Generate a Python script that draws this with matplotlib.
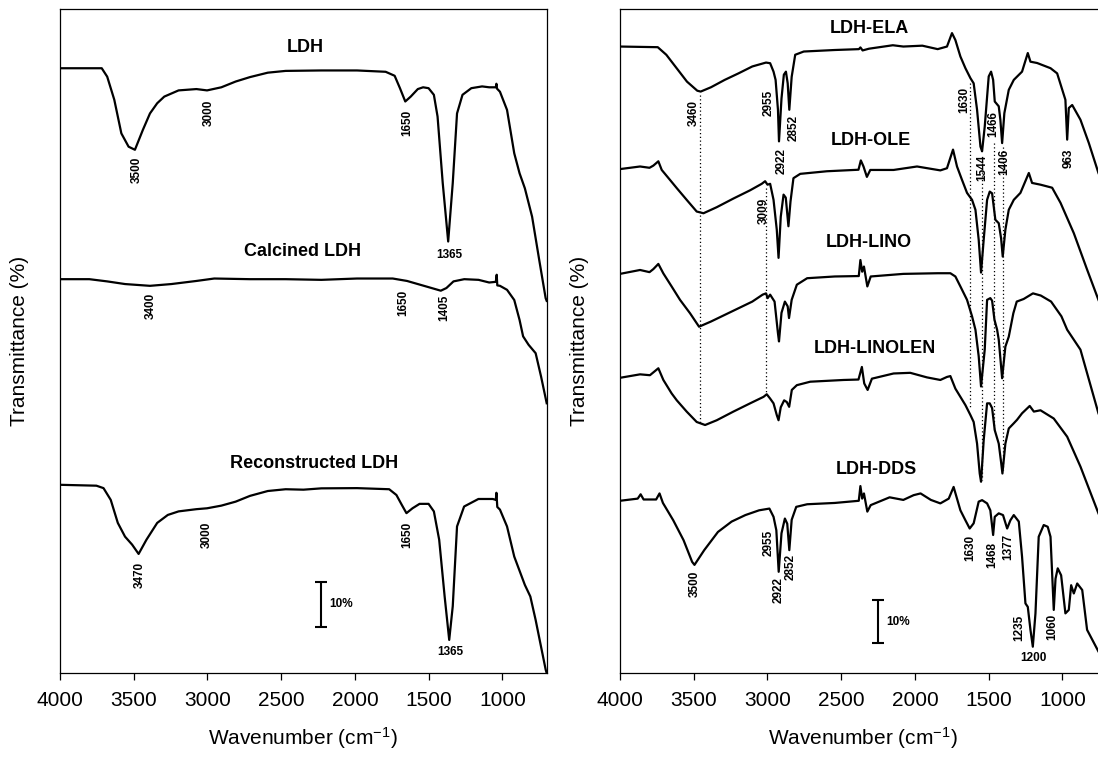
import matplotlib
matplotlib.use("Agg")
import matplotlib.pyplot as plt

plt.rcParams['font.family'] = ['Liberation Sans', 'DejaVu Sans']
plt.rcParams['mathtext.default'] = 'regular'

# =============================
# Spectra (wavenumber, transmittance change in % relative to 4000 cm-1)
# =============================
LDH_WN = [4000, 3717, 3680, 3632, 3584, 3535, 3492, 3438, 3390, 3341, 3293, 3196, 3075, 3003, 2906, 2809,
          2712, 2591, 2470, 2228, 1986, 1792, 1731, 1695, 1659, 1622, 1574, 1538, 1501, 1465, 1440, 1405,
          1368, 1337, 1308, 1271, 1211, 1138, 1090, 1045, 1041, 1037, 1017, 969, 920, 884, 848, 799, 751, 707, 700]
LDH_T = [0, 0, -1.9, -7.1, -14.7, -17.7, -18.4, -13.9, -10.2, -7.9, -6.4, -5.0, -4.7, -5.0, -4.3, -3.0,
         -2.0, -1.0, -0.6, -0.5, -0.5, -0.8, -1.7, -4.5, -7.5, -6.4, -4.7, -4.3, -4.5, -6.0, -10.9, -25.9,
         -39.1, -25.9, -10.2, -6.0, -4.5, -4.1, -4.3, -4.3, -3.5, -4.6, -5.3, -9.4, -19.2, -23.7, -27.1, -33.5, -43.2, -51.9, -52.5]

CAL_WN = [4000, 3801, 3680, 3559, 3390, 3245, 3075, 2954, 2712, 2470, 2228, 1986, 1744, 1647, 1574, 1501,
          1418, 1380, 1332, 1259, 1162, 1090, 1045, 1039, 1035, 1017, 969, 920, 884, 860, 823, 775, 738, 700]
CAL_T = [0, 0, -0.5, -1.1, -1.5, -1.1, -0.4, 0.15, 0, 0, -0.15, 0.15, 0.15, -0.4, -1.1, -1.8,
         -2.6, -2.0, -0.5, 0, -0.15, -0.75, -0.6, 1.0, -1.4, -1.5, -2.4, -4.7, -9.2, -12.9, -14.8, -16.7, -22.0, -28.0]

REC_WN = [4000, 3753, 3705, 3656, 3608, 3559, 3511, 3467, 3414, 3341, 3269, 3196, 3075, 3003, 2906, 2809,
          2712, 2591, 2470, 2349, 2228, 1986, 1768, 1719, 1683, 1651, 1610, 1562, 1501, 1465, 1429, 1392,
          1361, 1337, 1308, 1260, 1163, 1066, 1045, 1041, 1035, 1017, 969, 920, 848, 811, 775, 707, 700]
REC_T = [0, -0.2, -0.75, -3.4, -8.6, -11.7, -13.5, -15.6, -12.4, -8.6, -6.8, -6.0, -5.5, -5.3, -4.7, -3.8,
         -2.5, -1.4, -1.0, -1.1, -0.8, -0.75, -1.0, -2.3, -4.5, -6.4, -5.3, -4.3, -4.3, -6.0, -12.4, -25.2,
         -35.0, -27.4, -9.4, -4.9, -3.2, -3.2, -3.4, -1.8, -5.0, -5.6, -9.4, -16.2, -22.6, -25.2, -30.5, -41.7, -42.5]

ELA_WN = [4000, 3744, 3686, 3616, 3546, 3476, 3453, 3383, 3290, 3197, 3103, 3010, 2982, 2959, 2945, 2929,
          2922, 2905, 2889, 2875, 2863, 2852, 2836, 2812, 2754, 2544, 2380, 2370, 2355, 2312, 2150, 2079,
          1950, 1846, 1783, 1749, 1726, 1692, 1658, 1624, 1602, 1579, 1556, 1545, 1527, 1500, 1484, 1470,
          1459, 1432, 1421, 1409, 1394, 1364, 1330, 1274, 1235, 1217, 1172, 1081, 1036, 980, 968, 957,
          934, 878, 821, 756, 700]
ELA_T = [0, -0.15, -1.9, -5.0, -8.1, -10.2, -10.4, -9.4, -7.7, -6.2, -4.6, -3.7, -3.85, -5.8, -7.7, -14.6,
         -21.9, -12.0, -6.5, -5.8, -8.5, -14.6, -7.0, -1.9, -1.15, -0.8, -0.6, -0.2, -0.9, -0.5, 0.3, 0,
         0.2, -0.6, 0, 3.1, 1.5, -2.3, -5.0, -7.3, -8.5, -14.6, -23.1, -24.2, -18.5, -6.9, -5.8, -7.7,
         -12.7, -13.8, -16.9, -22.3, -15.4, -10.0, -7.7, -5.8, -1.5, -3.5, -3.8, -5.0, -6.2, -12.3, -21.5, -14.2,
         -13.5, -16.9, -22.3, -29.2, -33.5]

OLE_WN = [4000, 3864, 3800, 3774, 3740, 3717, 3661, 3615, 3548, 3480, 3434, 3344, 3231, 3118, 3039, 3016,
          3000, 2982, 2959, 2937, 2925, 2910, 2891, 2876, 2858, 2844, 2824, 2778, 2597, 2383, 2367, 2349,
          2326, 2303, 2145, 1986, 1828, 1783, 1742, 1715, 1681, 1647, 1613, 1590, 1568, 1552, 1534, 1511,
          1493, 1477, 1455, 1432, 1416, 1405, 1387, 1364, 1330, 1285, 1228, 1206, 1149, 1070, 1013, 923,
          833, 756, 700]
OLE_T = [0, 0.6, 0.3, 0.8, 1.8, -0.2, -2.5, -4.4, -7.1, -9.8, -10.2, -8.8, -6.8, -4.9, -3.4, -2.8,
         -3.6, -3.4, -7.1, -14.0, -20.5, -11.0, -5.9, -6.6, -13.2, -7.5, -2.1, -1.1, -0.5, -0.15, 2.0, 0.6,
         -1.8, -0.2, -0.2, 0.6, -0.3, 0.2, 4.5, 0.6, -2.5, -5.5, -7.1, -9.4, -16.3, -23.9, -16.3, -7.1,
         -5.2, -5.6, -11.7, -12.5, -16.0, -20.2, -14.0, -9.4, -7.1, -5.5, -0.9, -3.2, -3.6, -4.3, -7.8, -14.8,
         -23.2, -30.2, -34.5]

LINO_WN = [4000, 3864, 3800, 3774, 3740, 3706, 3650, 3593, 3525, 3464, 3383, 3243, 3103, 3033, 3010, 2999,
           2982, 2952, 2929, 2922, 2905, 2882, 2863, 2854, 2836, 2801, 2731, 2544, 2381, 2370, 2358, 2346,
           2323, 2300, 2079, 1846, 1760, 1726, 1692, 1647, 1613, 1590, 1568, 1552, 1527, 1511, 1489, 1477,
           1461, 1443, 1432, 1409, 1387, 1364, 1333, 1310, 1263, 1200, 1147, 1077, 1007, 968, 878, 756, 700]
LINO_T = [0, 0.9, 0.4, 1.1, 2.3, 0.1, -2.9, -6.0, -9.1, -12.2, -11.0, -8.7, -6.4, -4.8, -4.5, -5.6,
          -4.8, -6.4, -13.7, -15.6, -9.0, -6.4, -7.5, -10.2, -6.0, -2.5, -1.0, -0.6, -0.5, 3.2, 0.5, 1.7,
          -2.9, -0.6, 0, 0.15, 0.15, -0.6, -2.9, -6.0, -9.8, -12.9, -19.0, -26.0, -17.5, -6.0, -5.6, -6.2,
          -10.6, -12.9, -15.2, -24.1, -16.8, -14.5, -9.1, -6.4, -5.8, -4.5, -5.0, -6.4, -9.8, -12.9, -17.5, -32.2, -36.5]

LNL_WN = [4000, 3864, 3797, 3740, 3706, 3650, 3615, 3548, 3480, 3423, 3344, 3231, 3118, 3027, 3005, 2982,
          2959, 2937, 2925, 2910, 2887, 2869, 2853, 2835, 2801, 2710, 2484, 2383, 2360, 2344, 2321, 2292,
          2145, 2032, 1919, 1828, 1783, 1760, 1726, 1692, 1658, 1624, 1602, 1579, 1561, 1552, 1534, 1511,
          1493, 1477, 1459, 1432, 1416, 1407, 1387, 1364, 1330, 1308, 1274, 1222, 1194, 1149, 1059, 968,
          878, 756, 700]
LNL_T = [0, 0.8, 0.6, 2.2, -0.5, -3.6, -5.2, -7.8, -10.2, -10.9, -9.8, -7.8, -5.9, -4.4, -3.8, -4.8,
         -5.9, -8.6, -9.8, -6.8, -5.2, -5.6, -6.7, -2.8, -1.7, -0.9, -0.5, -0.4, 2.5, -1.3, -2.8, -0.2,
         1.0, 1.15, 0.1, -0.5, 0.2, 0.4, -2.5, -4.4, -6.3, -8.6, -10.2, -15.2, -22.1, -24.0, -14.4, -5.9,
         -5.9, -7.0, -12.1, -15.2, -19.5, -22.1, -15.2, -11.7, -10.5, -9.7, -8.2, -6.5, -7.8, -7.5, -9.4, -13.6,
         -20.5, -31.3, -35.5]

DDS_WN = [4000, 3880, 3860, 3840, 3755, 3732, 3709, 3639, 3569, 3511, 3495, 3429, 3336, 3243, 3150, 3057,
          2987, 2959, 2940, 2924, 2905, 2882, 2866, 2852, 2836, 2805, 2731, 2544, 2381, 2370, 2358, 2346,
          2323, 2300, 2172, 2079, 2009, 1962, 1892, 1828, 1771, 1738, 1715, 1692, 1658, 1629, 1602, 1568,
          1545, 1511, 1489, 1470, 1459, 1432, 1403, 1375, 1353, 1330, 1296, 1274, 1251, 1235, 1217, 1201,
          1183, 1161, 1127, 1100, 1081, 1059, 1047, 1032, 1009, 980, 957, 941, 923, 900, 866, 833, 756, 700]
DDS_T = [0, 0.5, 1.5, 0.3, 0.3, 1.7, -0.5, -4.5, -9.1, -14.1, -14.8, -11.4, -7.2, -4.8, -3.3, -2.2,
         -1.8, -3.7, -6.8, -16.4, -7.5, -4.1, -5.3, -11.4, -4.4, -1.4, -0.8, -0.5, 0, 3.4, 0.5, 1.7,
         -2.5, -1.0, 0.8, 0.2, 1.3, 1.7, 0.2, -0.6, 0.5, 3.2, 0.5, -2.2, -4.5, -6.4, -5.2, -0.2,
         0.15, -0.6, -2.2, -7.9, -3.7, -2.9, -3.3, -6.4, -4.5, -3.3, -4.8, -12.9, -23.7, -24.5, -29.8, -33.7,
         -26.0, -8.3, -5.6, -6.0, -8.3, -25.2, -18.0, -15.6, -17.2, -26.0, -25.2, -19.5, -21.4, -19.1, -20.6, -29.8, -34.8, -38.0]

# vertical stacking offsets (%)
LEFT_OFFSETS = [136.4, 88.8, 42.4]
RIGHT_OFFSETS = [144.6, 116.3, 92.1, 68.1, 39.7]

LEFT_SPECTRA = [(LDH_WN, LDH_T), (CAL_WN, CAL_T), (REC_WN, REC_T)]
RIGHT_SPECTRA = [(ELA_WN, ELA_T), (OLE_WN, OLE_T), (LINO_WN, LINO_T), (LNL_WN, LNL_T), (DDS_WN, DDS_T)]

# =============================
# Annotations (text, wavenumber, y)
# =============================
LEFT_TITLES = [("LDH", 2337, 141.0), ("Calcined LDH", 2353, 95.0), ("Reconstructed LDH", 2276, 47.3)]
LEFT_PEAKS = [("3500", 3482, 113.5), ("3000", 2990, 126.4), ("1650", 1647, 124.0),
              ("3400", 3385, 82.8), ("1650", 1671, 83.5), ("1405", 1393, 82.3),
              ("3470", 3458, 22.1), ("3000", 3003, 31.1), ("1650", 1647, 31.1)]
LEFT_FLAT = [("1365", 1361, 94.3), ("1365", 1351, 4.7)]

RIGHT_TITLES = [("LDH-ELA", 2311, 148.8), ("LDH-OLE", 2300, 123.0), ("LDH-LINO", 2316, 99.3),
                ("LDH-LINOLEN", 2269, 74.9), ("LDH-DDS", 2265, 47.0)]
RIGHT_PEAKS = [("3460", 3500, 129.2), ("2955", 2992, 131.5), ("2852", 2824, 125.7), ("2922", 2905, 118.2),
               ("3009", 3022, 106.7), ("1630", 1664, 132.3), ("1466", 1468, 126.7), ("1544", 1543, 116.5),
               ("1406", 1392, 118.0), ("963", 961, 118.8),
               ("3500", 3495, 20.5), ("2955", 2994, 30.0), ("2922", 2922, 19.1), ("2852", 2840, 24.5),
               ("1630", 1624, 28.7), ("1468", 1478, 27.2), ("1377", 1368, 29.1), ("1235", 1291, 10.3),
               ("1060", 1072, 10.6)]
RIGHT_FLAT = [("1200", 1194, 3.3)]

# dotted guide lines (wavenumber, y from, y to)
GUIDES = [(3460, 133.4, 57.7), (3009, 111.9, 64.6), (1630, 136.2, 61.4),
          (1544, 119.1, 44.5), (1466, 122.3, 56.1), (1406, 121.4, 46.8)]

# 10 % scale bars (wavenumber, y bottom)
LEFT_BAR = (2228, 10.4)
RIGHT_BAR = (2253, 6.8)

# =============================
# Figure
# =============================
W, H = 1098, 760
fig = plt.figure(figsize=(W / 100, H / 100), dpi=100)
ax1 = fig.add_axes([60 / W, 87.3 / H, 486.7 / W, 663.4 / H])
ax2 = fig.add_axes([620 / W, 87.3 / H, 486.7 / W, 663.4 / H])


def style_axes(ax, ytop):
    ax.set_xlim(4000, 700)
    ax.set_ylim(0, ytop)
    ax.set_xticks([4000, 3500, 3000, 2500, 2000, 1500, 1000])
    ax.set_yticks([])
    ax.tick_params(axis="x", direction="out", length=5, width=0.9, labelsize=15, pad=8)
    for s in ax.spines.values():
        s.set_linewidth(0.9)
    ax.set_xlabel("Wavenumber (cm$^{-1}$)", fontsize=15, labelpad=11)
    ax.set_ylabel("Transmittance (%)", fontsize=15, labelpad=22)


def scale_bar(ax, x, y0):
    ax.errorbar([x], [y0 + 5], yerr=[5], color="k", lw=1.5, capsize=4, capthick=1.5)
    ax.text(x - 55, y0 + 5, "10%", fontsize=8.5, fontweight="bold", ha="left", va="center")


style_axes(ax1, 149.7)
style_axes(ax2, 153.2)

for (wn, t), off in zip(LEFT_SPECTRA, LEFT_OFFSETS):
    ax1.plot(wn, [v + off for v in t], color="k", lw=1.6, solid_joinstyle="round")
for (wn, t), off in zip(RIGHT_SPECTRA, RIGHT_OFFSETS):
    ax2.plot(wn, [v + off for v in t], color="k", lw=1.6, solid_joinstyle="round")

for x, y0, y1 in GUIDES:
    ax2.plot([x, x], [y0, y1], color="k", lw=0.9, ls=(0, (1, 2)))

for ax, titles, peaks, flat in [(ax1, LEFT_TITLES, LEFT_PEAKS, LEFT_FLAT),
                                (ax2, RIGHT_TITLES, RIGHT_PEAKS, RIGHT_FLAT)]:
    for s, x, y in titles:
        ax.text(x, y, s, fontsize=13, fontweight="bold", ha="center", va="center")
    for s, x, y in peaks:
        ax.text(x, y, s, fontsize=8.5, fontweight="bold", ha="center", va="center", rotation=90)
    for s, x, y in flat:
        ax.text(x, y, s, fontsize=8.5, fontweight="bold", ha="center", va="center")

scale_bar(ax1, *LEFT_BAR)
scale_bar(ax2, *RIGHT_BAR)

fig.savefig("out.png", dpi=100)
plt.close(fig)
